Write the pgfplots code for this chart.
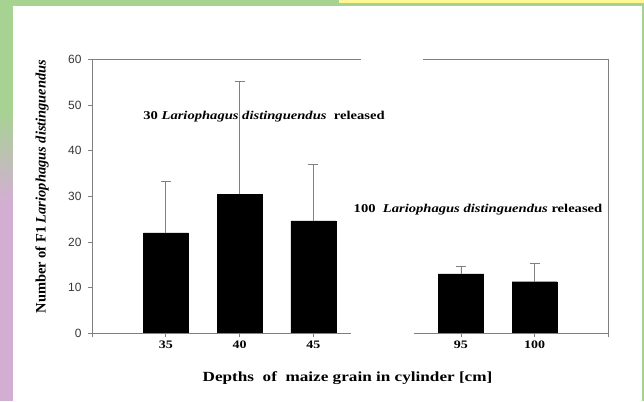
\documentclass[border=0pt]{standalone}
\usepackage{fontspec}
\setmainfont{Liberation Serif}
\newfontfamily\arialf{Liberation Sans}
\usepackage{graphicx}
\usepackage{pgfplots}
\pgfplotsset{compat=1.18}
\definecolor{bggreen}{RGB}{166,210,146}
\definecolor{axgray}{RGB}{128,128,128}
\definecolor{ticktext}{RGB}{55,55,55}
\definecolor{pinkish}{RGB}{210,175,210}
\definecolor{ylw}{RGB}{255,246,150}
\newcommand{\sx}[1]{\scalebox{1.22}[1]{#1}}
\begin{document}
\begin{tikzpicture}[x=1bp,y=1bp]
\fill[bggreen] (0,0) rectangle (644,401);
\fill[pinkish] (0,0) rectangle (13,200);
\shade[top color=bggreen, bottom color=pinkish] (0,200) rectangle (13,290);
\fill[white] (13,0) rectangle (642,395);
\fill[ylw] (339,398) rectangle (644,401);
\path[use as bounding box] (0,0) rectangle (644,401);
\begin{axis}[
  at={(92bp,67.7bp)}, anchor=south west, scale only axis,
  width=516.5bp, height=274bp,
  xmin=-1, xmax=6, ymin=0, ymax=60,
  axis x line*=bottom, axis y line*=left,
  x axis line style={draw=none},
  y axis line style={draw=axgray, line width=0.8bp},
  ytick={0,10,...,60},
  xtick={-1,0,1,2,4,5,6},
  xticklabels={,\sx{35},\sx{40},\sx{45},\sx{95},\sx{100},},
  tick align=outside, major tick length=4bp,
  every tick/.style={axgray, line width=0.8bp},
  yticklabel style={font=\arialf\fontsize{12}{13}\selectfont, text=ticktext, xshift=-3bp},
  xticklabel style={font=\bfseries\fontsize{11.5}{13}\selectfont},
  /pgf/number format/assume math mode=true,
  clip=false,
]
\addplot[ybar, bar width=45bp, fill=black, draw=black,
  error bars/.cd, y dir=plus, y explicit,
  error bar style={axgray, line width=0.8bp},
  error mark options={rotate=90, mark size=5bp, axgray, line width=0.8bp}]
  table[x=x, y=y, y error=e] {
  x y e
  0 22.0 11.3
  1 30.5 24.7
  2 24.6 12.3
  4 13.0 1.7
  5 11.3 4.1
  };
\draw[axgray, line width=0.8bp] (axis cs:-1,0) -- (axis cs:2.51,0)
  (axis cs:3.36,0) -- (axis cs:6,0)
  (axis cs:6,0) -- (axis cs:6,60)
  (axis cs:-1,60) -- (axis cs:2.65,60)
  (axis cs:3.49,60) -- (axis cs:6,60);
\end{axis}
\node[rotate=90, font=\bfseries\fontsize{14.5}{16}\selectfont] at (42,214.5) {Number of F1 \textit{Lariophagus distinguendus}};
\node[font=\bfseries\fontsize{14}{16}\selectfont] at (347.5,23) {\scalebox{1.23}[1]{Depths \ of \ maize grain in cylinder [cm]}};
\node[font=\bfseries\fontsize{12}{14}\selectfont] at (264,284.3) {\sx{30 \textit{Lariophagus distinguendus} \ released}};
\node[font=\bfseries\fontsize{12}{14}\selectfont] at (478,191) {\sx{100 \ \textit{Lariophagus distinguendus} released}};
\end{tikzpicture}
\end{document}
